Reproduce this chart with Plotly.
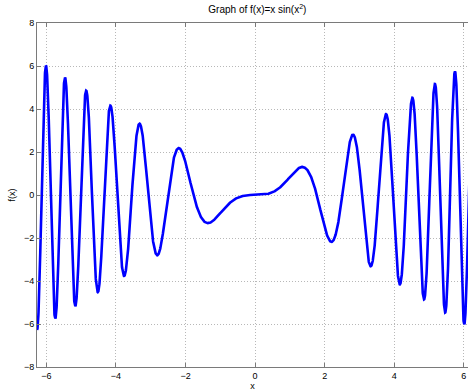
import numpy as np
import plotly.graph_objects as go

# Chart content: the plotted function named in the title, f(x) = x*sin(x^2), sampled on [-2pi, 2pi]
x_start = -2 * np.pi
x_end = 2 * np.pi
n_samples = 4001
x_values = np.linspace(x_start, x_end, n_samples)
f_values = x_values * np.sin(x_values ** 2)

x_ticks = [-6, -4, -2, 0, 2, 4, 6]
y_ticks = [-8, -6, -4, -2, 0, 2, 4, 6, 8]

title_text = "Graph of f(x)=x sin(x<sup>2</sup>)"
x_label = "x"
y_label = "f(x)"

fig = go.Figure()
fig.add_trace(go.Scatter(x=x_values, y=f_values, mode="lines",
                         line=dict(color="#0000ff", width=2.6), showlegend=False))

font = dict(family="Liberation Sans, Arial, sans-serif", size=9, color="#000")
axis_common = dict(showgrid=True, gridcolor="#b8b8b8", griddash="1px,2px", gridwidth=1,
                   zeroline=False, showline=True, linecolor="#7a7a7a", linewidth=1,
                   ticks="inside", ticklen=4, tickcolor="#7a7a7a", tickfont=font)

fig.update_layout(
    width=468, height=392,
    margin=dict(l=37, r=0, t=23, b=25),
    paper_bgcolor="white", plot_bgcolor="white",
    title=dict(text=title_text, x=0.55, xanchor="center", y=0.985, yanchor="top",
               font=dict(family="Liberation Sans, Arial, sans-serif", size=10, color="#000")),
    xaxis=dict(range=[-6.27, 6.12], tickvals=x_ticks, mirror="ticks",
               title=dict(text=x_label, font=font, standoff=2), **axis_common),
    yaxis=dict(range=[-8, 8], tickvals=y_ticks, mirror=False,
               title=dict(text=y_label, font=font, standoff=6), **axis_common),
)

fig.write_html("out.html")
